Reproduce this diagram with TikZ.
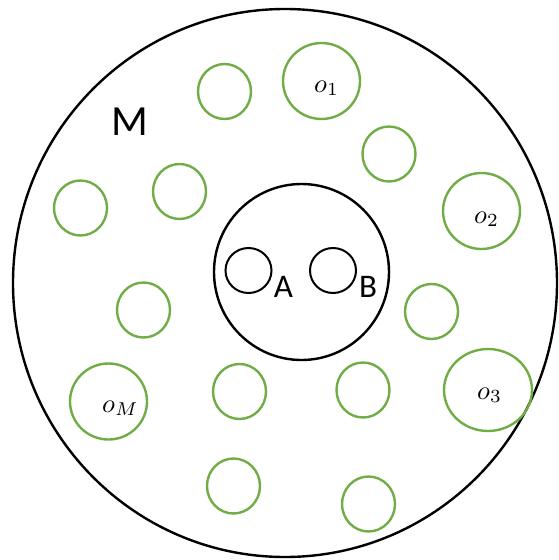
\documentclass[tikz,border=0pt]{standalone}
\usepackage{graphicx}
\usepackage{fontspec}
\setmainfont{Carlito}
\usetikzlibrary{shapes.geometric}
\definecolor{ogreen}{HTML}{70AD47}
\newcommand{\biglbl}[1]{\scalebox{2.65}{$#1$}}
\tikzset{
  ring/.style={draw=black, line width=2.4pt, ellipse, inner sep=0pt, outer sep=0pt},
  obj/.style={draw=ogreen, line width=2.4pt, ellipse, inner sep=0pt, outer sep=0pt, minimum width=53pt, minimum height=55pt},
  bigobj/.style={obj, minimum width=77pt, minimum height=76pt},
  lbl/.style={inner sep=0pt, anchor=base west},
  letterlbl/.style={inner sep=0pt, font=\fontsize{33}{38}\selectfont},
}
\begin{document}
\begin{tikzpicture}[x=1pt, y=-1pt]
\useasboundingbox (0,0) rectangle (558,560);
% outer and inner regions
\node[ring, minimum width=544pt, minimum height=548pt] (outer) at (285,283) {};
\node[ring, minimum width=175pt, minimum height=176pt] (inner) at (301.5,272) {};
\node[ring, line width=2pt, minimum width=46pt, minimum height=45pt] (ca) at (248.5,270.5) {};
\node[ring, line width=2pt, minimum width=46pt, minimum height=45pt] (cb) at (333,270.5) {};
\node[letterlbl] (la) at (283.5,287) {A};
\node[letterlbl] (lb) at (368,287) {B};
\node[inner sep=0pt, font=\fontsize{43}{48}\selectfont] (m) at (129.5,122) {M};
% objects
\node[obj] (g1) at (224.5,91.5) {};
\node[bigobj] (o1) at (321.5,81) {};
\node[obj] (g2) at (389,154) {};
\node[bigobj] (o2) at (481.5,211) {};
\node[obj] (g3) at (179.5,191.5) {};
\node[obj] (g4) at (80.5,208) {};
\node[obj] (g5) at (143.5,310) {};
\node[bigobj] (oM) at (108.5,401.5) {};
\node[obj] (g6) at (239.5,391.5) {};
\node[obj] (g7) at (233.5,486) {};
\node[obj] (g8) at (431.5,311.5) {};
\node[obj] (g9) at (363,390) {};
\node[bigobj, minimum width=88pt, minimum height=82pt] (o3) at (488,390) {};
\node[obj] (g10) at (368.5,504) {};
% object labels
\node[lbl] (t1) at (314,92) {\biglbl{o_1}};
\node[lbl] (t2) at (474,223) {\biglbl{o_2}};
\node[lbl] (t3) at (477,399) {\biglbl{o_3}};
\node[lbl] (tM) at (102,412) {\biglbl{o_M}};
\end{tikzpicture}
\end{document}
